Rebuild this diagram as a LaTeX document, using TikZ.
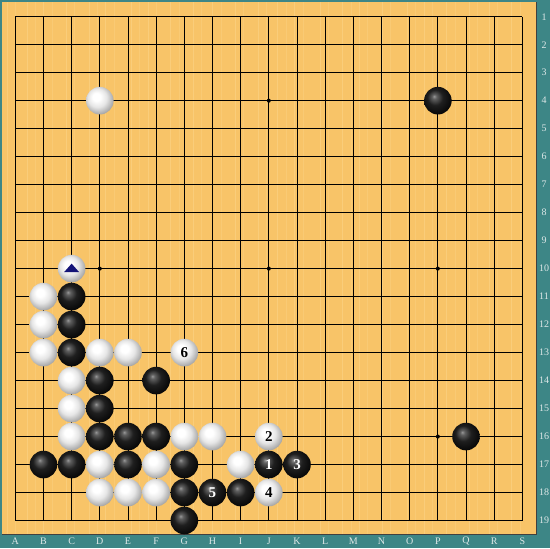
\documentclass[tikz,border=0pt]{standalone}
\usepackage{fontspec}
\setmainfont{Liberation Serif}
\definecolor{teal0}{RGB}{61,134,134}
\definecolor{wood}{RGB}{248,196,104}
\definecolor{woodlight}{RGB}{252,214,140}
\definecolor{navy0}{RGB}{20,20,120}
\definecolor{lblc}{RGB}{222,232,232}
\pgfdeclareradialshading{bstoneshade}{\pgfqpoint{-7bp}{8bp}}{color(0bp)=(black!40); color(4bp)=(black!62); color(14bp)=(black!88); color(28bp)=(black!97); color(50bp)=(black)}
\pgfdeclareradialshading{wstoneshade}{\pgfqpoint{-7bp}{8bp}}{color(0bp)=(white); color(7bp)=(white); color(17bp)=(black!10); color(26bp)=(black!30); color(34bp)=(black!48); color(50bp)=(black!50)}
\tikzset{
  stone/.style={circle, minimum size=27.6pt, inner sep=0pt, font=\fontsize{15}{15}\selectfont\bfseries},
  bst/.style={stone, shading=bstoneshade, text=white},
  wst/.style={stone, shading=wstoneshade, text=black},
  hoshi/.style={circle, fill=black, minimum size=4pt, inner sep=0pt},
  gridline/.style={draw=black, line width=0.9pt},
  lbl/.style={text=lblc, font=\fontsize{10}{10}\selectfont, inner sep=0pt},
}
\begin{document}
\begin{tikzpicture}[x=28.17pt, y=-27.99pt]
\useasboundingbox (-0.5431,-0.5966) rectangle (18.981,18.982);
\fill[teal0] (-0.5431,-0.5966) rectangle (18.981,18.982);
\fill[wood] (-0.4721,-0.5252) rectangle (18.484,18.482);
\foreach \s in {0.2,0.9,1.5,2.3,3.1,3.7,4.6,5.2,6.0,6.8,7.5,8.3,9.1,9.8,10.4,11.3,12.1,12.7,13.5,14.4,15.0,15.8,16.6,17.3,18.1} {
  \fill[woodlight, opacity=0.5] (\s-0.5,-0.5252) rectangle (\s-0.47,18.482);
  \fill[woodlight, opacity=0.35] (\s-0.2,-0.5252) rectangle (\s-0.18,18.482);
}
\draw[black!75, line width=1pt] (18.484,-0.5252) -- (18.484,18.482) -- (-0.4721,18.482);
\foreach \i in {0,...,18} {
  \draw[gridline] (\i,0) -- (\i,18);
  \draw[gridline] (0,\i) -- (18,\i);
}
\foreach \c/\r [count=\k] in {4/4,10/4,16/4,4/10,10/10,16/10,4/16,10/16,16/16}
  \node[hoshi] (h\k) at (\c-1,\r-1) {};
\foreach \L [count=\k] in {A,B,C,D,E,F,G,H,I,J,K,L,M,N,O,P,Q,R,S}
  \node[lbl] (col\k) at (\k-1,18.732) {\L};
\foreach \k in {1,...,19}
  \node[lbl] (row\k) at (18.769,\k-1) {\k};
% black stones
\foreach \c/\r [count=\k] in {16/4,3/11,3/12,3/13,4/14,6/14,4/15,4/16,5/16,6/16,17/16,2/17,3/17,5/17,7/17,7/18,9/18,7/19}
  \node[bst] (b\k) at (\c-1,\r-1) {};
% white stones
\foreach \c/\r [count=\k] in {4/4,3/10,2/11,2/12,2/13,4/13,5/13,3/14,3/15,3/16,7/16,8/16,4/17,6/17,9/17,4/18,5/18,6/18}
  \node[wst] (w\k) at (\c-1,\r-1) {};
% numbered stones
\node[bst] (m1) at (9,16) {1};
\node[wst] (m2) at (9,15) {2};
\node[bst] (m3) at (10,16) {3};
\node[wst] (m4) at (9,17) {4};
\node[bst] (m5) at (7,17) {5};
\node[wst] (m6) at (6,12) {6};
% triangle marker on C10
\fill[navy0] ([xshift=-7.5pt,yshift=-3.5pt]w2.center) -- ([xshift=7.5pt,yshift=-3.5pt]w2.center) -- ([yshift=5pt]w2.center) -- cycle;
\end{tikzpicture}
\end{document}
